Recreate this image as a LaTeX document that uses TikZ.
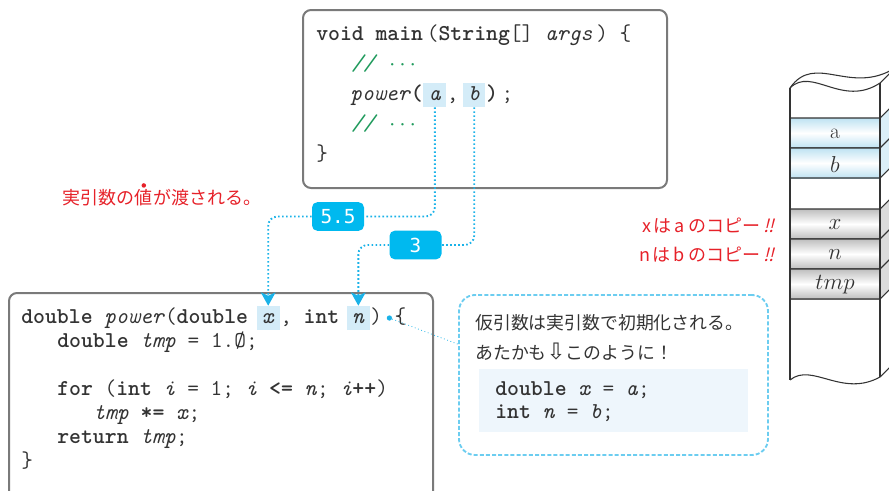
\documentclass[tikz,border=0pt]{standalone}
\usepackage{fontspec}
\usetikzlibrary{positioning,arrows.meta,calc}

\newfontfamily\jp{Noto Sans CJK JP}
\newfontfamily\jpit[FakeSlant=0.25]{Noto Sans CJK JP}
\newfontfamily\symfont{DejaVu Sans}
\newfontfamily\badgefont{DejaVu Sans Mono}

\definecolor{flowcyan}{HTML}{1AB2E8}
\definecolor{badgecyan}{HTML}{00B9EF}
\definecolor{boxgray}{HTML}{7A7A7A}
\definecolor{hlblue}{HTML}{D4ECF8}
\definecolor{cmtgreen}{HTML}{1F9A5C}
\definecolor{notered}{HTML}{E62129}
\definecolor{memocyan}{HTML}{6CCDF0}
\definecolor{memofill}{HTML}{EEF6FC}
\definecolor{cellblue}{HTML}{BEE2F2}
\definecolor{cellgray}{HTML}{BEBEBE}
\definecolor{inkgray}{HTML}{333333}

\newcommand{\codefont}{\fontsize{17}{20}\ttfamily}
\newcommand{\kw}[1]{\textbf{#1}}
\newcommand{\vr}[1]{\textit{#1}}

\tikzset{
  code/.style={font=\codefont, text=inkgray, anchor=base west, inner sep=0pt},
  hl/.style={code, fill=hlblue, inner xsep=4pt, inner ysep=0pt, text height=12.75pt, text depth=5.25pt},
  codebox/.style={draw=boxgray, line width=1.5pt, rounded corners=6pt},
  flow/.style={flowcyan, line width=1.4pt, dash pattern=on 1.2pt off 1.8pt, rounded corners=7pt},
  passtip/.style={-{Stealth[width=11pt,length=10pt,inset=2.5pt]}},
  badge/.style={fill=badgecyan, text=white, rounded corners=4pt, inner sep=0pt,
    font=\badgefont\fontsize{14.5}{16}\selectfont, minimum width=39pt, minimum height=21.5pt},
  note/.style={text=notered, font=\jp\fontsize{13.5}{16}\selectfont, inner sep=0pt},
  memo/.style={draw=memocyan, line width=1.4pt, dash pattern=on 3pt off 1.6pt, rounded corners=12pt},
  memotext/.style={text=inkgray, font=\jp\fontsize{13.4}{16}\selectfont, inner sep=0pt, anchor=west},
  cell/.style={font=\fontsize{16}{18}\selectfont, text=inkgray, inner sep=0pt},
  stackline/.style={draw=inkgray, line width=0.8pt}
}

\begin{document}
\begin{tikzpicture}[x=0.75pt,y=-0.75pt]
\useasboundingbox (0,0) rectangle (889,490);
\clip (0,0) rectangle (889,490);
%\draw[step=10,gray,very thin] (0,0) grid (889,490);

% main()
\draw[codebox] (303,10) rectangle (667,188);
\node[code] (mainA) at (316,40) {\kw{void} \kw{main}\,(\kw{String}[]~\vr{args}\,)~\{};
\node[code, text=cmtgreen] (mainB) at (351,70) {\vr{//} $\cdots$};
\node[code] (callP) at (350,100) {\vr{power}\kw{(}};
\node[hl, base right=0pt of callP] (hlA) {\vr{a}};
\node[code, base right=0pt of hlA] (callC) {,\,};
\node[hl, base right=0pt of callC] (hlB) {\vr{b}};
\node[code, base right=0pt of hlB] (callE) {\kw{)}\,;};
\node[code, text=cmtgreen] (mainD) at (351,130) {\vr{//} $\cdots$};
\node[code] (mainE) at (316,160) {\}};

% power()
\draw[codebox] (9,520) -- (9,293) -- (433,293) -- (433,520);
\node[code] (sigA) at (21,323) {\kw{double} \vr{power}(\kw{double}\kern0.35em};
\node[hl, base right=0pt of sigA] (hlX) {\vr{x}};
\node[code, base right=0pt of hlX] (sigB) {,\ \kw{int}\kern0.3em};
\node[hl, base right=0pt of sigB] (hlN) {\vr{n}};
\node[code, base right=0pt of hlN] (sigR) {)};
\node[code] (lbrace) at ($(sigR.base east)+(12,0)$) {\{};
\node[circle, fill=flowcyan, inner sep=1.4pt] (hookDot) at ($(sigR.base east)+(7,-5)$) {};
\node[code] (bodyA) at (57,347) {\kw{double} \vr{tmp} = 1.Ø;};
\node[code] (bodyB) at (57,395) {\kw{for} (\kw{int} \vr{i} = 1; \vr{i} \kw{<=} \vr{n}; \vr{i}\kw{++})};
\node[code] (bodyC) at (93,419) {\vr{tmp} \kw{*=} \vr{x};};
\node[code] (bodyD) at (57,443) {\kw{return} \vr{tmp};};
\node[code] (bodyE) at (21,467) {\}};

% values passed
\node[badge] (val55) at (338,216.5) {5.5};
\node[badge] (val3) at (415.5,245) {3};
\draw[flow] (hlA.south) |- (val55.east);
\draw[flow, passtip] (val55.west) -| (hlX.north);
\draw[flow] (hlB.south) |- (val3.east);
\draw[flow, passtip] (val3.west) -| (hlN.north);

\node[note, anchor=west] (passA) at (62,198) {実引数の};
\node[note, base right=0pt of passA] (passB) {値};
\node[note, base right=0pt of passB] (passC) {が渡される。};
\node[circle, fill=notered, inner sep=1.2pt] (bouten) at ($(passB.north)+(0,-4)$) {};

% memo
\node[memo, minimum width=231.75pt, minimum height=120pt] (memoBox) at (613.5,375) {};
\draw[flowcyan, line width=0.6pt, dotted] (hookDot) -- ($(memoBox.north west)!0.31!(memoBox.south west)$);
\node[memotext] (memoA) at (475,323) {仮引数は実引数で初期化される。};
\node[memotext] (memoB) at (475,352) {あたかも{\symfont\fontsize{17}{17}\selectfont ⇩}このように！};
\fill[memofill] (479,369) rectangle (748,432);
\node[code] (initX) at (495,395) {\kw{double} \vr{x} = \vr{a};};
\node[code] (initN) at (495,418) {\kw{int} \vr{n} = \vr{b};};

\node[note, anchor=base east] (copyX) at (775,232) {x\,は\,a\,のコピー\,{\jpit!!}};
\node[note, anchor=base east] (copyN) at (775,261) {n\,は\,b\,のコピー\,{\jpit!!}};

% stack
\fill[white] (790,88) .. controls (812,66) and (842,108) .. (880,83) -- (880,377)
  .. controls (842,398) and (812,362) .. (790,380) -- cycle;
\foreach \ya/\yb/\cc in {118/148/cellblue, 148/178/cellblue, 209/239/cellgray, 239/269/cellgray, 269/299/cellgray} {
  \shade[top color=\cc, bottom color=\cc, middle color=white] (790,\ya) rectangle (880,\yb);
  \fill[\cc!55] (880,\ya) -- (895,\ya-15) -- (895,\yb-15) -- (880,\yb) -- cycle;
  \draw[stackline] (790,\ya) -- (880,\ya) -- (895,\ya-15);
  \draw[stackline] (790,\yb) -- (880,\yb) -- (895,\yb-15);
}
\draw[stackline] (790,88) .. controls (812,66) and (842,108) .. (880,83) -- (895,68);
\draw[stackline] (790,88) .. controls (815,52) and (850,96) .. (895,68);
\draw[stackline] (790,88) -- (790,380);
\draw[stackline] (880,83) -- (880,377);
\draw[stackline] (790,380) .. controls (812,362) and (842,398) .. (880,377) -- (895,362);
\node[cell] (cellA) at (835,134) {a};
\node[cell] (cellB) at (835,164) {$b$};
\node[cell] (cellX) at (835,225) {$x$};
\node[cell] (cellN) at (835,255) {$n$};
\node[cell] (cellT) at (835,285) {$tmp$};
\end{tikzpicture}
\end{document}
